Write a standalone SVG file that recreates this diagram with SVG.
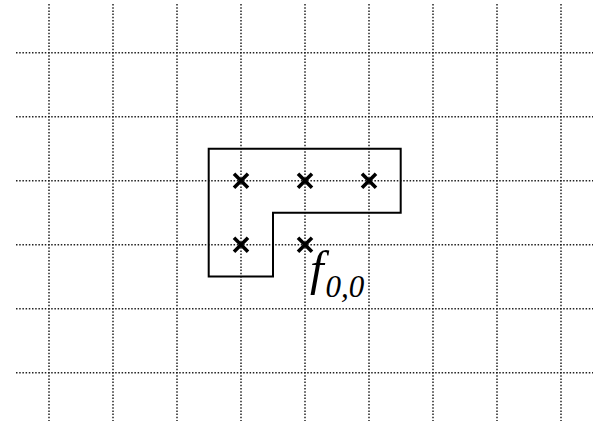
<svg xmlns="http://www.w3.org/2000/svg" width="602" height="423" viewBox="0 0 602 423">
<style>
.g{stroke:#222;stroke-width:1.5;stroke-dasharray:1.5 1.7;fill:none}
.x{stroke:#000;stroke-width:3.6;fill:none}
.t{font-family:"Liberation Serif","Times New Roman",serif;font-style:italic;fill:#000}
</style>
<rect width="602" height="423" fill="#fff"/>
<g id="grid">
<path class="g" d="M49 4V421M113 4V421M177 4V421M241 4V421M305 4V421M369 4V421M433 4V421M497 4V421M561 4V421"/>
<path class="g" d="M16 52.7H593M16 116.7H593M16 180.7H593M16 244.7H593M16 308.7H593M16 372.7H593"/>
</g>
<g id="region">
<path d="M208.7 148.7H400.7V212.7H273V276.5H208.7Z" fill="none" stroke="#000" stroke-width="2"/>
</g>
<g id="marks">
<path class="x" d="M234 173.7l14 14M248 173.7l-14 14"/>
<path class="x" d="M298 173.7l14 14M312 173.7l-14 14"/>
<path class="x" d="M362 173.7l14 14M376 173.7l-14 14"/>
<path class="x" d="M234 237.7l14 14M248 237.7l-14 14"/>
<path class="x" d="M298 237.7l14 14M312 237.7l-14 14"/>
</g>
<g id="label">
<text class="t" x="310" y="285" font-size="49">f</text>
<text class="t" x="325.5" y="296.5" font-size="31">0,0</text>
</g>
</svg>
